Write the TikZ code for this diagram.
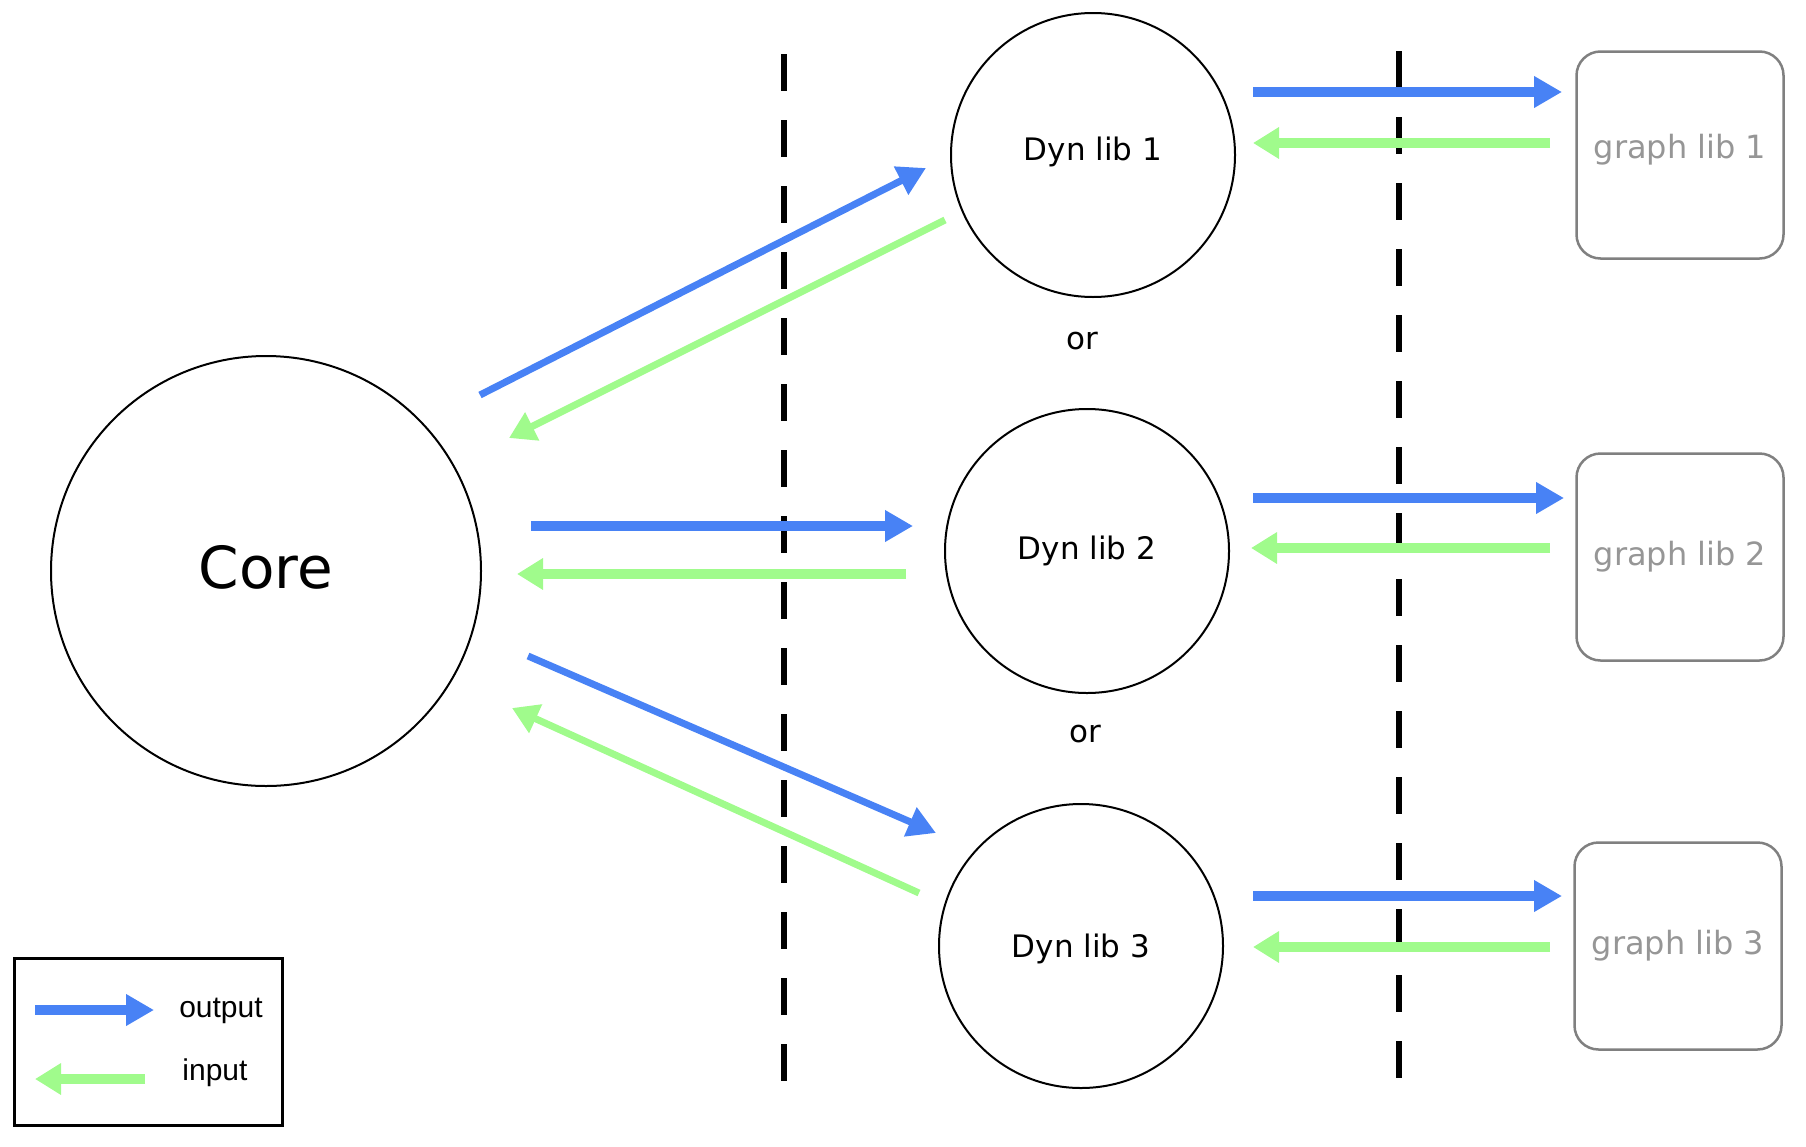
\documentclass[tikz,border=0pt]{standalone}
\usepackage{fontspec}
\setmainfont{DejaVu Sans}
\newfontfamily\legendfont{Liberation Sans}
\usetikzlibrary{arrows.meta}
\definecolor{outblue}{RGB}{72,130,245}
\definecolor{ingreen}{RGB}{160,251,140}
\definecolor{boxgray}{RGB}{128,128,128}
\definecolor{libtext}{RGB}{150,150,150}
\begin{document}
\begin{tikzpicture}[x=1pt,y=-1pt,
  circ/.style={circle,draw=black,line width=2pt,inner sep=0pt},
  dynnode/.style={circ,minimum size=284pt,font=\fontsize{31}{37}\selectfont},
  glib/.style={draw=boxgray,rounded corners=24pt,line width=2.5pt,minimum width=207pt,minimum height=207pt,text=libtext,font=\fontsize{32}{38}\selectfont},
  outarr/.style={draw=outblue,line width=10pt,-{Triangle[length=28pt,width=30pt]}},
  inarr/.style={draw=ingreen,line width=10pt,-{Triangle[length=26pt,width=30pt]}},
  thin/.style={line width=7pt},
  sepline/.style={line width=5.5pt,dash pattern=on 37pt off 29pt},
  ortext/.style={font=\fontsize{31}{37}\selectfont,inner sep=0pt},
  legtext/.style={font=\legendfont\fontsize{30}{36}\selectfont,inner sep=0pt}]
\useasboundingbox (0,0) rectangle (1806,1146);

% separators
\coordinate (s1a) at (784,54);
\coordinate (s1b) at (784,1081);
\coordinate (s2a) at (1399,51);
\coordinate (s2b) at (1399,1078);
\draw[sepline] (s1a) -- (s1b);
\draw[sepline] (s2a) -- (s2b);

% nodes
\node[circ,minimum size=430pt,text depth=8pt,font=\fontsize{58}{70}\selectfont] (core) at (266,571) {Core};
\node[dynnode,text depth=12pt] (d1) at (1093,155) {Dyn lib 1};
\node[dynnode,text depth=7.5pt] (d2) at (1087,551) {Dyn lib 2};
\node[dynnode,text depth=1pt] (d3) at (1081,946) {Dyn lib 3};
\node[glib,text depth=18pt] (g1) at (1680,155) {graph lib 1};
\node[glib,text depth=7pt] (g2) at (1680,557) {graph lib 2};
\node[glib,text depth=7pt] (g3) at (1678,946) {graph lib 3};
\node[ortext] (or1) at (1082,341) {or};
\node[ortext] (or2) at (1085,734) {or};

% core <-> dyn libs
\coordinate (c1o) at (480,395);  \coordinate (d1i) at (926,168);
\coordinate (d1o) at (945,220);  \coordinate (c1i) at (509,438);
\coordinate (c2o) at (531,526);  \coordinate (d2i) at (913,526);
\coordinate (d2o) at (906,574);  \coordinate (c2i) at (517,574);
\coordinate (c3o) at (528,656);  \coordinate (d3i) at (936,833);
\coordinate (d3o) at (919,893);  \coordinate (c3i) at (512,708);
\draw[outarr,thin] (c1o) -- (d1i);
\draw[inarr,thin] (d1o) -- (c1i);
\draw[outarr] (c2o) -- (d2i);
\draw[inarr] (d2o) -- (c2i);
\draw[outarr,thin] (c3o) -- (d3i);
\draw[inarr,thin] (d3o) -- (c3i);

% dyn libs <-> graph libs
\coordinate (r1a) at (1253,92);  \coordinate (r1b) at (1562,92);
\coordinate (r1c) at (1550,143); \coordinate (r1d) at (1253,143);
\coordinate (r2a) at (1253,498); \coordinate (r2b) at (1564,498);
\coordinate (r2c) at (1550,548); \coordinate (r2d) at (1251,548);
\coordinate (r3a) at (1253,896); \coordinate (r3b) at (1562,896);
\coordinate (r3c) at (1550,947); \coordinate (r3d) at (1253,947);
\draw[outarr] (r1a) -- (r1b);
\draw[inarr] (r1c) -- (r1d);
\draw[outarr] (r2a) -- (r2b);
\draw[inarr] (r2c) -- (r2d);
\draw[outarr] (r3a) -- (r3b);
\draw[inarr] (r3c) -- (r3d);

% legend
\node[draw=black,line width=3pt,minimum width=268pt,minimum height=167pt,inner sep=0pt] (legend) at (148,1042) {};
\coordinate (lo1) at (35,1010); \coordinate (lo2) at (154,1010);
\coordinate (li1) at (145,1079); \coordinate (li2) at (35,1079);
\draw[outarr] (lo1) -- (lo2);
\draw[inarr] (li1) -- (li2);
\node[legtext] (louttext) at (221,1011) {output};
\node[legtext] (lintext) at (215,1073) {input};
\end{tikzpicture}
\end{document}
